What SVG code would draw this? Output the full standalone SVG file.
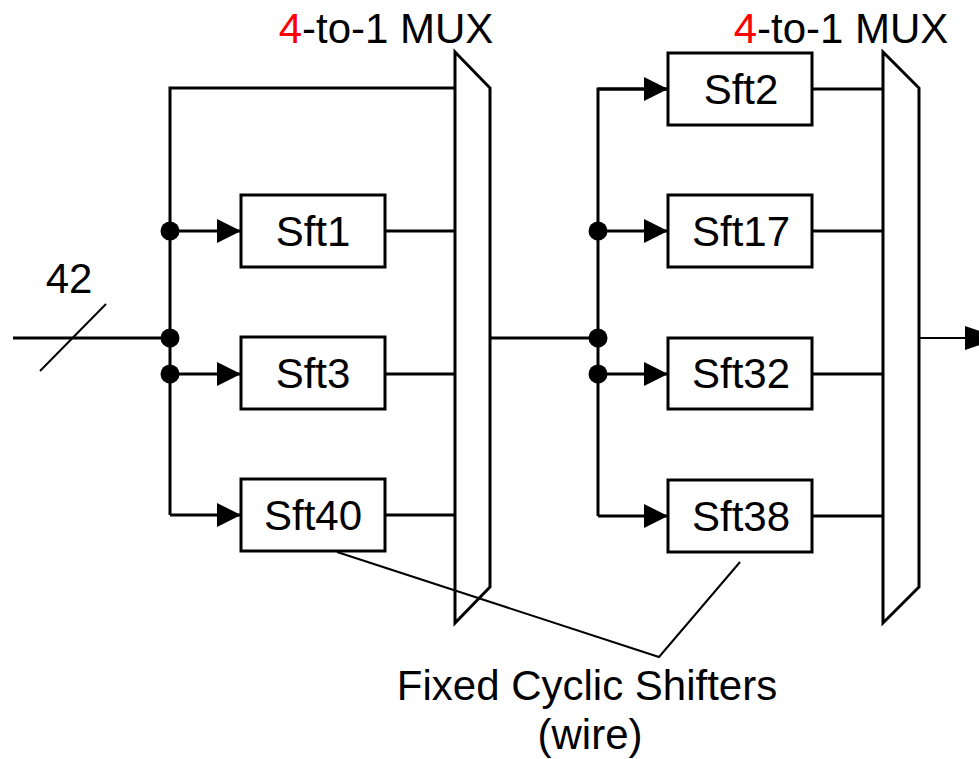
<svg xmlns="http://www.w3.org/2000/svg" width="979" height="759" viewBox="0 0 979 759">
<style>
text{font-family:"Liberation Sans",Arial,sans-serif;font-size:42px;fill:#000}
.box{fill:#fff;stroke:#000;stroke-width:3}
.mux{fill:#fff;stroke:#000;stroke-width:3;stroke-linejoin:miter}
.w{fill:none;stroke:#000;stroke-width:3}
.thin{fill:none;stroke:#000;stroke-width:2}
.dot{fill:#000}
.red{fill:#ff0000}
</style>
<defs>
<marker id="ah" markerUnits="userSpaceOnUse" markerWidth="24" markerHeight="24" refX="24" refY="12" orient="auto">
<path d="M0,0 L24,12 L0,24 Z" fill="#000"/>
</marker>
</defs>
<rect width="979" height="759" fill="#fff"/>
<g id="connectors">
<path class="w" d="M13,338 H170"/>
<path class="thin" d="M40,371 L106,304"/>
<path class="w" d="M455,88 H170 V515"/>
<path class="w" d="M170,231 H241" marker-end="url(#ah)"/>
<path class="w" d="M170,374 H241" marker-end="url(#ah)"/>
<path class="w" d="M170,515 H241" marker-end="url(#ah)"/>
<path class="w" d="M385,231 H455"/>
<path class="w" d="M385,374 H455"/>
<path class="w" d="M385,515 H455"/>
<circle class="dot" cx="170" cy="231" r="9.5"/>
<circle class="dot" cx="170" cy="338" r="9.5"/>
<circle class="dot" cx="170" cy="374" r="9.5"/>
<path class="w" d="M490,338 H598"/>
<path class="w" d="M668,89 H598 V516"/>
<path class="w" d="M598,89 H668" marker-end="url(#ah)"/>
<path class="w" d="M598,231 H668" marker-end="url(#ah)"/>
<path class="w" d="M598,374 H668" marker-end="url(#ah)"/>
<path class="w" d="M598,516 H668" marker-end="url(#ah)"/>
<path class="w" d="M812,89 H883"/>
<path class="w" d="M812,231 H883"/>
<path class="w" d="M812,374 H883"/>
<path class="w" d="M812,516 H883"/>
<circle class="dot" cx="598" cy="231" r="9.5"/>
<circle class="dot" cx="598" cy="338" r="9.5"/>
<circle class="dot" cx="598" cy="374" r="9.5"/>
<path class="thin" d="M919,338 H970"/>
<polygon points="965,326 1000,338 965,350" fill="#000"/>
</g>
<g id="mux1">
<polygon class="mux" points="455,52 490,88 490,587 455,623"/>
<text x="386" y="43" text-anchor="middle"><tspan class="red">4</tspan>-to-1 MUX</text>
</g>
<g id="mux2">
<polygon class="mux" points="883,52 919,88 919,587 883,623"/>
<text x="841" y="43" text-anchor="middle"><tspan class="red">4</tspan>-to-1 MUX</text>
</g>
<g id="sft1"><rect class="box" x="241" y="195" width="144" height="72"/><text x="313" y="246" text-anchor="middle">Sft1</text></g>
<g id="sft3"><rect class="box" x="241" y="337" width="144" height="72"/><text x="313" y="388" text-anchor="middle">Sft3</text></g>
<g id="sft40"><rect class="box" x="241" y="479" width="144" height="72"/><text x="313" y="530" text-anchor="middle">Sft40</text></g>
<g id="sft2"><rect class="box" x="668" y="53" width="144" height="72"/><text x="741" y="104" text-anchor="middle">Sft2</text></g>
<g id="sft17"><rect class="box" x="668" y="195" width="144" height="72"/><text x="741" y="246" text-anchor="middle">Sft17</text></g>
<g id="sft32"><rect class="box" x="668" y="338" width="144" height="71"/><text x="741" y="388" text-anchor="middle">Sft32</text></g>
<g id="sft38"><rect class="box" x="668" y="480" width="144" height="72"/><text x="741" y="531" text-anchor="middle">Sft38</text></g>
<g id="width-label"><text x="69" y="293" text-anchor="middle">42</text></g>
<g id="callout">
<path class="thin" d="M337,552 L659,657 L740,562"/>
<text x="587" y="700" text-anchor="middle">Fixed Cyclic Shifters</text>
<text x="590" y="749" text-anchor="middle">(wire)</text>
</g>
</svg>
